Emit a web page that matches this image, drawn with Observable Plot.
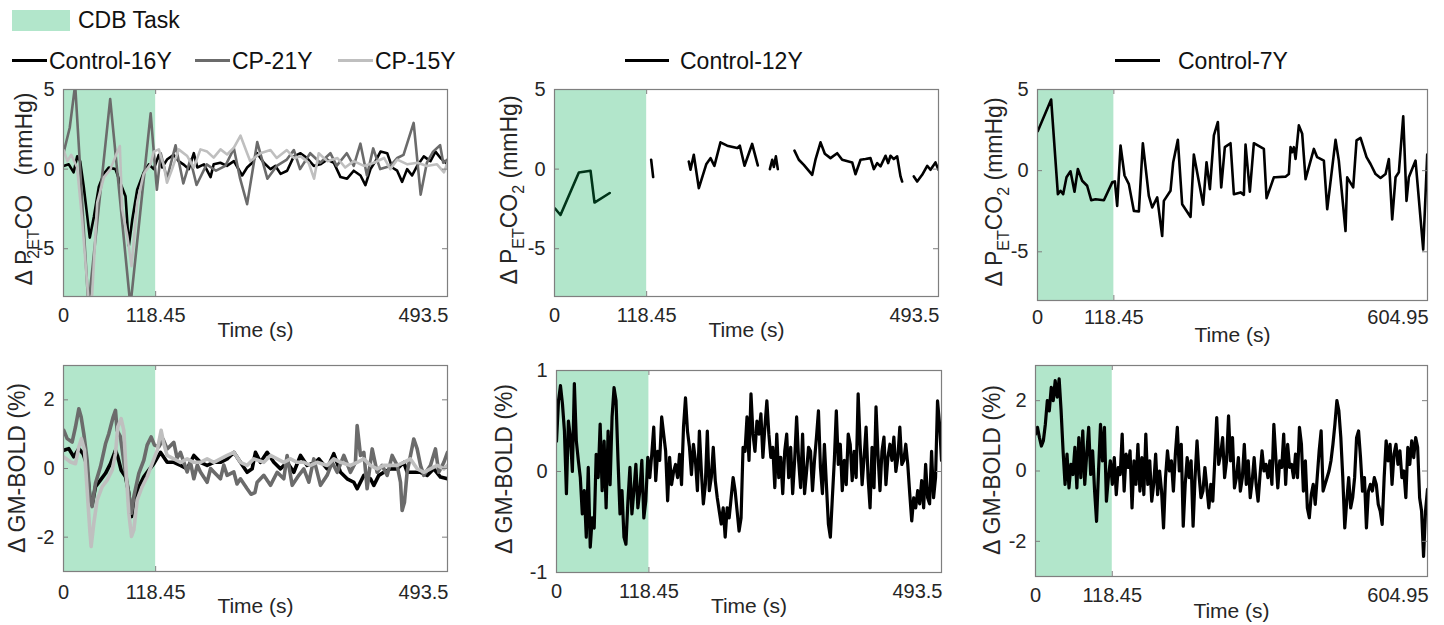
<!DOCTYPE html>
<html><head><meta charset="utf-8">
<script src="https://cdn.jsdelivr.net/npm/d3@7"></script>
<script src="https://cdn.jsdelivr.net/npm/@observablehq/plot@0.6"></script>
<style>
body{margin:0;background:#fff;}
#fig{position:relative;width:1444px;height:625px;font-family:"Liberation Sans",Arial,sans-serif;color:#000;overflow:hidden;}
.abs{position:absolute;white-space:nowrap;}
</style></head><body><div id="fig"></div>
<script>
// ---------- DATA ----------
const taskWindow = [{start: 0, end: 118.45}];
const durA = 493.5, durB = 604.95;
const xTicksA = [0, 118.45, 493.5];
const xTicksB = [0, 118.45, 604.95];
const yTicksPet = [-5, 0, 5];
const yTicksBoldA = [-2, 0, 2];
const yTicksBoldB = [-1, 0, 1];
const legendTop = ["Control-16Y", "CP-21Y", "CP-15Y"];

// Panel 1: ΔPETCO2, [time s, mmHg]
const c16Pet = [[0,0.2],[6.8,0.3],[13,-0.2],[17.6,0.8],[21.4,0.5],[26,-1.1],[33.8,-4.3],[39,-3.0],[45.4,-1.1],[51.8,-0.3],[58.2,0.1],[66.8,0.0],[73.3,-0.9],[79.7,-1.7],[84,-4.8],[88.3,-3.2],[94.7,-1.3],[103.2,-0.2],[109.7,0.3],[116,0.0],[122.5,0.9],[126.7,0.1],[133,0.6],[141.5,0.9],[148,0.5],[154,0.3],[161,0.0],[167.5,1.0],[172,0.1],[180.5,0.3],[189,-0.5],[193,0.3],[201.6,0.4],[210,0.2],[219,0.5],[229.6,-0.4],[236,0.1],[242.5,0.4],[248.9,1.0],[257.4,0.4],[266,0.0],[272.4,0.2],[279,-0.3],[287.4,-0.1],[296,0.8],[304.6,1.0],[313,0.7],[321.7,0.2],[330,0.3],[338.8,0.6],[347.4,0.4],[356,-0.5],[364.5,-0.6],[373,-0.1],[381.7,-0.4],[388,-1.0],[394.5,0.0],[401,0.5],[407.4,1.1],[416,1.0],[422.4,0.1],[428.8,-0.1],[435.2,-0.8],[441.6,0.0],[448,-0.4],[454.5,0.2],[463,0.8],[471.6,0.5],[478,1.1],[484.5,0.7],[493.5,0.3]];
const cp21Pet = [[0,1.0],[8,2.6],[15,5.3],[32,-8.6],[60,4.4],[86,-8.6],[112,3.5],[120,-1.3],[125,1.0],[133,-0.6],[144,1.5],[154,-0.9],[163,0.6],[171,-1.0],[184,0.3],[196,-0.1],[208,0.2],[219,1.3],[227,-0.6],[236,-2.2],[249,1.7],[262,-0.6],[274,0.2],[287,0.6],[296,1.2],[304,0.0],[317,1.0],[330,0.4],[343,1.0],[351,0.2],[364,1.0],[373,0.2],[381.6,1.6],[390,-0.4],[398,1.3],[407,0.0],[420,0.2],[429,0.7],[437,0.9],[450,2.9],[459,-1.6],[467,0.4],[475,1.1],[484,1.5],[488,0.4],[493.5,0.6]];
const cp15Pet = [[0,1.2],[5,0.5],[10,0.9],[17.5,0.1],[24,-3.2],[32.5,-8.5],[36.8,-7.9],[43.3,-2.1],[52,-0.5],[60.4,0.0],[66.8,0.8],[72.4,1.45],[75.4,-2.5],[82,-4.2],[87.4,-6.1],[94.7,-2.1],[103,-0.3],[111.8,0.3],[116,1.1],[122.5,1.24],[129,0.19],[133,-0.86],[139.6,0.0],[148,1.24],[159,0.82],[167.5,0.09],[176,1.24],[184.6,1.1],[193,0.72],[201.8,1.24],[210.3,0.92],[219,1.35],[227.5,2.1],[236,1.0],[240,0.5],[253,1.0],[266,1.2],[274,0.7],[287,1.2],[296,0.7],[305,0.8],[315,0.4],[322,-0.6],[328,1.0],[339,0.5],[352,0.7],[362,0.1],[373,0.5],[386,0.2],[399,0.4],[412,0.7],[420,0.0],[429,0.6],[442,0.3],[455,0.4],[467,0.2],[480,0.3],[489,-0.2],[493.5,0.4]];

// Panel 2: Control-12Y ΔPETCO2 (null = missing)
const c12Pet = [[0.4,-2.46],[7.7,-2.88],[31.3,-0.21],[46.3,-0.1],[51.4,-2.1],[71,-1.5],[100,null],[124.2,0.59],[126.8,-0.5],[150,null],[172.6,0.48],[174.8,-0.04],[179,0.9],[185.5,-1.2],[195,0.3],[200.5,0.69],[205.5,0.2],[213.3,1.68],[221.9,1.47],[234.8,1.32],[238.2,1.47],[244.2,0.21],[254,1.58],[261.3,0.23],[270,null],[276.8,0.0],[279.8,0.59],[281.9,0.13],[284.5,0.8],[287,0.0],[300,null],[308.4,1.16],[314,0.59],[320.4,0.27],[331.2,-0.36],[335.4,0.59],[341.9,1.68],[347.4,0.97],[354.7,0.69],[363.3,1.0],[369.7,0.59],[382.6,0.42],[386.8,-0.32],[393.3,0.59],[399.7,0.63],[406.1,0.69],[410.4,0.0],[414.7,0.38],[419,0.17],[425.4,0.84],[428.8,0.38],[431.8,0.84],[436.1,0.63],[440.4,0.8],[444.7,-0.46],[446.8,-0.78],[455,null],[461.8,-0.46],[466.1,-0.78],[472.5,-0.36],[479,0.21],[483.2,-0.04],[489.6,0.42],[493.5,-0.04]];

// Panel 3: Control-7Y ΔPETCO2
const c7Pet = [[0.5,2.44],[21.2,4.38],[31.6,-1.45],[35.7,-1.24],[39.8,-1.45],[45,-0.41],[51.2,-0.04],[57.4,-1.3],[62.6,0.1],[69.3,-0.62],[77,-0.93],[83.3,-1.82],[90,-1.76],[103,-1.82],[115.9,-0.72],[120,-0.66],[123.6,-2.17],[128.8,1.55],[135,-0.3],[141.7,-0.83],[149.5,-2.48],[157.2,-2.52],[163.4,1.69],[172.7,-1.55],[177.9,-2.27],[185.7,-1.65],[193.4,-4.03],[196,-1.86],[206.3,-1.24],[210.5,0.52],[217.7,1.9],[224.4,-2.07],[237.4,-2.85],[242.5,0.99],[257,-2.1],[262.2,0.52],[267.4,-1.14],[273.6,2.17],[279.8,3.0],[285,-1.03],[290.6,1.45],[299.4,1.69],[304.6,-1.45],[315,-1.34],[320.1,-1.49],[322.7,1.61],[329.4,-1.3],[335.6,1.69],[351.1,1.34],[355.3,-1.69],[366.6,-0.41],[369.2,-0.41],[384.7,-0.37],[389.9,-0.21],[392.5,1.45],[395.1,1.14],[397.7,1.45],[400.3,0.72],[405.4,2.79],[410.6,2.27],[415.8,-0.52],[428.7,1.34],[433.8,0.83],[444.2,0.62],[449.4,-2.38],[462.3,1.9],[467.4,0.62],[477.8,-3.72],[480.4,-0.41],[489.7,-1.03],[494.9,1.86],[501.1,2.02],[510.4,0.83],[516.6,0.41],[524.4,-0.21],[532.1,-0.45],[539.9,-0.21],[545,0.72],[550.2,-3.0],[555.4,-0.41],[560.5,-0.1],[567.3,3.35],[572.4,-1.86],[576,-0.41],[586.4,0.62],[598.3,-4.86],[604.5,0.99]];

// Panel 4: ΔGM-BOLD (%), [time s, %]
const c16Bold = [[0.4,0.53],[6.8,0.58],[13.2,0.34],[19.7,0.58],[25.2,0.43],[29.5,0.14],[33.8,-0.82],[36.8,-1.06],[41.1,-0.53],[47.5,-0.34],[54,-0.14],[60.4,0.14],[66.8,0.53],[69.8,0.34],[74.1,-0.05],[79.7,-0.24],[83.9,-0.72],[87.4,-1.4],[90.4,-1.01],[96.8,-0.53],[103.2,-0.24],[109.6,-0.05],[116.1,0.14],[124.6,0.47],[133.2,0.18],[141.8,0.18],[150.3,0.09],[158.9,-0.01],[167.5,0.38],[176,0.18],[184.6,0.09],[193.2,0.18],[201.7,0.18],[210.3,0.28],[218.9,0.47],[227.4,0.18],[236,-0.11],[242.4,-0.01],[246.7,0.47],[253.2,0.18],[261.7,0.47],[270.3,0.18],[278.9,-0.01],[287.4,0.18],[296,-0.11],[304.6,0.38],[313.1,0.09],[323.8,0.18],[328.1,0.28],[338.8,-0.01],[347.4,0.43],[356,-0.11],[364.5,-0.3],[373.1,-0.4],[377.4,-0.59],[386,-0.2],[394.5,-0.3],[398.8,-0.49],[405.2,-0.2],[411.7,-0.11],[420.2,-0.01],[428.8,-0.01],[437.4,0.18],[441.6,-0.11],[450.2,-0.11],[458.8,-0.11],[467.4,-0.2],[475.9,-0.01],[484.5,-0.25],[493.5,-0.3]];
const cp21Bold = [[0.4,1.11],[4.7,0.87],[11.1,0.77],[15.4,1.21],[19.7,1.74],[22.7,1.5],[26.1,1.01],[30.4,0.24],[33.8,-0.82],[36.8,-1.11],[41.1,-0.43],[47.5,0.05],[54,0.72],[58.2,1.01],[63.8,1.5],[66.8,1.69],[68.9,1.11],[73.2,0.92],[78.4,0.05],[83.9,-0.72],[87.4,-1.3],[90.4,-0.82],[96.8,-0.14],[103.2,0.24],[107.5,0.68],[112.6,0.92],[116.9,0.68],[122.5,0.63],[128,0.85],[133.2,0.57],[141.8,0.76],[146,0.3],[150.3,0.47],[158.9,-0.1],[163,0.2],[167.5,-0.3],[172,0.1],[176,-0.1],[184.6,-0.4],[189,0.0],[193.2,-0.1],[201.7,-0.3],[206,0.1],[210.3,-0.2],[218.9,-0.1],[223,-0.45],[227.4,-0.3],[236,-0.59],[241,-0.75],[246,-0.7],[248.9,-0.4],[257.4,-0.2],[266,-0.49],[274.6,-0.11],[283.1,-0.3],[287.4,0.38],[293.9,-0.49],[302.4,-0.2],[308.8,-0.01],[315.3,-0.4],[321.7,0.28],[330.3,-0.49],[338.8,-0.2],[345.3,0.18],[351.7,-0.11],[360.3,0.38],[368.8,-0.11],[375.2,0.18],[377.4,1.25],[381.7,0.38],[386,0.47],[390.2,-0.59],[396.7,0.57],[403.1,-0.11],[409.5,0.09],[416,-0.2],[422.4,0.38],[428.8,0.09],[433.1,-0.4],[435.2,-1.22],[438.2,-0.98],[441.6,-0.11],[450.2,0.86],[454.5,0.57],[458.8,0.09],[463,-0.2],[471.6,0.09],[478,0.57],[482.3,-0.11],[488.8,0.18],[493.5,0.47]];
const cp15Bold = [[0.4,0.34],[9,0.19],[15.4,0.14],[19.7,0.63],[23.1,0.87],[27,0.53],[30.4,-0.63],[33.8,-1.79],[35.5,-2.27],[39,-1.59],[43.2,-0.92],[49.7,-0.53],[56.1,-0.34],[62.5,-0.05],[66.8,0.43],[69.8,1.21],[74.1,1.45],[77.5,1.11],[80.9,-0.24],[83.9,-1.3],[87.4,-1.98],[90.4,-1.79],[94.6,-0.92],[101.1,-0.53],[107.5,-0.24],[113.9,0.14],[120.4,0.53],[125.5,1.11],[128.9,0.72],[133.2,0.38],[141.8,0.28],[150.3,0.18],[158.9,0.28],[167.5,0.18],[176,0.18],[184.6,0.28],[193.2,0.18],[201.7,0.28],[210.3,0.38],[218.9,0.47],[227.4,0.18],[236,0.09],[244.6,0.28],[257.4,0.18],[266,0.38],[274.6,0.28],[283.1,0.18],[291.7,0.28],[300.3,0.18],[308.8,0.18],[317.4,0.09],[326,0.18],[338.8,0.09],[347.4,0.28],[356,0.18],[368.8,0.09],[377.4,0.18],[386,0.28],[394.5,0.09],[403.1,-0.01],[411.7,0.09],[420.2,0.09],[428.8,0.09],[437.4,0.18],[445.9,0.28],[454.5,-0.01],[463,-0.11],[471.6,-0.01],[480.2,0.09],[488.8,-0.01],[493.5,0.09]];

// Panel 5: Control-12Y ΔGM-BOLD (%), evenly sampled over 0–493.5 s
const c12Bold = [0.30,0.70,0.85,0.67,0.40,-0.22,0.50,0.34,0.0,0.87,0.30,0.11,-0.06,-0.42,-0.19,-0.65,0.04,-0.75,-0.46,-0.56,0.17,-0.06,0.47,-0.19,0.30,-0.36,0.40,-0.13,0.54,0.83,0.70,0.11,-0.42,-0.19,-0.65,-0.72,-0.29,0.04,-0.42,-0.19,0.07,-0.36,-0.19,0.11,-0.46,-0.29,0.14,-0.06,0.17,0.44,-0.09,0.20,0.11,0.54,0.37,0.20,-0.29,0.14,-0.13,0.0,0.07,-0.06,0.17,-0.13,0.44,0.73,0.40,0.24,-0.03,0.27,0.11,-0.19,0.40,0.0,-0.32,-0.13,0.40,-0.19,-0.06,0.24,-0.09,-0.26,-0.39,-0.52,-0.36,-0.65,-0.36,-0.46,-0.26,-0.06,-0.19,-0.39,-0.59,-0.46,0.24,0.20,0.54,0.11,0.77,0.37,0.20,0.50,0.37,0.57,0.14,0.44,0.70,0.37,0.14,0.24,-0.16,0.37,-0.06,0.14,-0.22,0.20,0.37,-0.06,0.24,-0.22,0.11,0.54,0.11,-0.16,0.37,-0.22,0.0,0.24,0.20,-0.19,0.11,0.34,0.60,0.04,-0.22,0.27,-0.13,-0.52,-0.65,-0.26,0.11,0.60,0.07,0.27,-0.19,0.11,-0.13,0.37,0.27,-0.09,0.20,-0.06,0.77,0.27,-0.13,0.14,0.44,-0.06,-0.36,0.24,-0.16,0.64,0.17,-0.19,0.20,0.34,-0.13,0.14,0.27,0.11,0.34,0.0,0.14,0.44,0.07,0.11,0.27,0.07,-0.22,-0.49,-0.26,-0.36,-0.19,-0.32,-0.09,-0.36,0.07,-0.26,-0.32,0.20,-0.26,-0.06,0.70,0.47,0.11];

// Panel 6: Control-7Y ΔGM-BOLD (%), evenly sampled over 0–604.95 s
const c7Bold = [1.05,1.24,0.95,0.71,0.86,1.33,2.0,1.71,2.38,2.0,2.57,2.1,2.62,1.71,0.57,-0.38,0.48,-0.48,0.19,-0.1,0.67,-0.48,0.95,-0.19,1.14,-0.38,0.48,1.24,-0.1,0.57,-0.57,-1.43,0.0,1.33,0.29,1.24,-0.86,-0.19,0.29,-0.38,0.38,-0.67,0.1,-0.1,1.05,-0.57,0.48,0.1,0.57,-1.05,0.29,-0.38,0.76,-0.57,0.38,-0.67,1.05,-0.38,0.29,-0.86,-0.38,0.48,-0.67,0.0,-0.57,-1.62,-0.19,0.57,0.0,0.29,-0.57,0.48,1.24,0.0,0.76,-1.57,-0.38,0.38,-0.19,0.29,-1.57,-0.19,0.86,-0.1,-0.76,-0.57,0.1,-0.48,-1.05,-0.38,-0.86,0.29,1.52,0.19,0.48,0.95,-0.19,0.29,1.57,0.29,0.95,-0.48,-0.19,0.38,-0.57,-0.19,0.76,-0.38,0.29,-0.76,-0.29,0.38,-0.38,-0.86,-0.1,0.57,0.0,0.19,-0.19,0.29,-0.38,1.33,0.38,-0.48,0.29,0.1,1.05,-0.38,0.76,0.1,0.19,-0.19,0.48,-0.19,1.24,0.76,-0.57,0.29,-1.05,-1.33,-0.67,-0.38,-0.95,-0.19,0.57,1.14,-0.57,-0.38,-0.19,0.0,0.29,0.76,1.33,2.0,1.71,0.95,-0.19,-1.62,-0.86,-0.19,-1.05,-0.76,-0.19,0.95,1.14,0.38,-0.57,-0.19,-1.62,-0.57,-0.38,-0.57,-0.19,-0.38,-0.95,-1.14,-1.52,-0.19,0.86,0.29,0.76,-0.38,0.48,0.76,0.19,0.57,-0.19,0.0,-0.76,0.67,0.19,0.86,0.38,0.95,0.67,-0.76,-1.14,-2.43,-1.14,-0.52];

// ---------- STYLE ----------
const GREEN = "#b2e6cb", OVER = "rgb(0,172,82)";
const FRAME = "#7f7f7f", TXT = "#262626";
const COL = {black: "#000000", dark: "#6b6b6b", light: "#bfbfbf"};
const FONT = '"Liberation Sans", Arial, Helvetica, sans-serif';
const fig = document.getElementById("fig");

const even = (vals, T) => vals.map((v, i) => [i * T / (vals.length - 1), v]);

function mkPanel(c) {
  const mL = 60, mR = 14, mT = 12, mB = 56;
  const {left, top, w, h, T, xt, yDomain, yTicks, series, overlay, parts, labX, labY, tickDy, timeDy, sw} = c;
  const marks = [];
  if (!overlay) marks.push(Plot.rect(taskWindow, {x1: "start", x2: "end", fill: GREEN}));
  series.forEach(s => marks.push(Plot.line(s.data, {x: d => d[0], y: d => d[1], stroke: s.color, strokeWidth: sw, clip: true, strokeLinejoin: "round"})));
  if (overlay) marks.push(Plot.rect(taskWindow, {x1: "start", x2: "end", fill: OVER, fillOpacity: 0.3}));
  const ins = 5;
  marks.push(
    Plot.tickY(yTicks, {y: d => d, stroke: FRAME, insetRight: w - ins}),
    Plot.tickY(yTicks, {y: d => d, stroke: FRAME, insetLeft: w - ins}),
    Plot.tickX(xt, {x: d => d, stroke: FRAME, insetTop: h - ins}),
    Plot.tickX(xt, {x: d => d, stroke: FRAME, insetBottom: h - ins}),
    Plot.frame({stroke: FRAME, strokeWidth: 1.2}),
    Plot.text(yTicks, {y: d => d, text: d => String(d), frameAnchor: "left", dx: -9, textAnchor: "end", fontSize: 20, fill: TXT}),
    Plot.text(xt.slice(0, 2), {x: d => d, text: d => String(d), frameAnchor: "bottom", dy: tickDy, fontSize: 20, fill: TXT}),
    Plot.text(xt.slice(2), {x: d => d, text: d => String(d), frameAnchor: "bottom", dy: tickDy, dx: 1, textAnchor: "end", fontSize: 20, fill: TXT}),
    Plot.text(["Time (s)"], {text: d => d, frameAnchor: "bottom", dy: timeDy, fontSize: 21, fill: TXT})
  );
  const svg = Plot.plot({
    width: w + mL + mR, height: h + mT + mB,
    marginLeft: mL, marginRight: mR, marginTop: mT, marginBottom: mB,
    x: {domain: [0, T], axis: null},
    y: {domain: yDomain, axis: null},
    style: {fontFamily: FONT, background: "transparent", overflow: "visible", color: TXT},
    marks
  });
  const sx = left - mL, sy = top - mT;
  svg.style.position = "absolute";
  svg.style.left = sx + "px";
  svg.style.top = sy + "px";
  const t = d3.select(svg).append("text")
    .attr("transform", `translate(${labX - sx},${labY - sy}) rotate(-90)`)
    .attr("text-anchor", "middle").attr("font-size", 23).attr("fill", TXT)
    .attr("font-family", FONT).style("white-space", "pre");
  parts.forEach(p => {
    const ts = t.append("tspan").text(p.t).attr("font-size", p.fs || 23);
    if (p.dy) ts.attr("dy", p.dy);
    if (p.dx) ts.attr("dx", p.dx);
  });
  fig.appendChild(svg);
}

const petParts = [{t: "Δ P"}, {t: "ET", dy: 7, fs: 16}, {t: "CO", dy: -7}, {t: "2", dy: 7, fs: 16}, {t: " (mmHg)", dy: -7}];
const petPartsGlitch = [{t: "Δ P"}, {t: "2", dy: 7, fs: 16, dx: -9}, {t: "ET", fs: 16}, {t: "CO", dy: -7}, {t: "   (mmHg)"}];
const boldParts = [{t: "Δ GM-BOLD (%)"}];

mkPanel({left: 63, top: 89, w: 384, h: 207, T: durA, xt: xTicksA, yDomain: [-8, 5], yTicks: yTicksPet,
  series: [{data: c16Pet, color: COL.black}, {data: cp21Pet, color: COL.dark}, {data: cp15Pet, color: COL.light}],
  parts: petPartsGlitch, labX: 32, labY: 189, tickDy: 25, timeDy: 40, sw: 2.6});
mkPanel({left: 554, top: 89, w: 384, h: 207, T: durA, xt: xTicksA, yDomain: [-8, 5], yTicks: yTicksPet,
  series: [{data: c12Pet, color: COL.black}], overlay: true,
  parts: petParts, labX: 517, labY: 190, tickDy: 25, timeDy: 40, sw: 2.6});
mkPanel({left: 1037, top: 89, w: 390, h: 211, T: durB, xt: xTicksB, yDomain: [-8, 5], yTicks: yTicksPet,
  series: [{data: c7Pet, color: COL.black}],
  parts: petParts, labX: 1002, labY: 192, tickDy: 23, timeDy: 41, sw: 2.6});
mkPanel({left: 63, top: 365, w: 384, h: 206, T: durA, xt: xTicksA, yDomain: [-3, 3], yTicks: yTicksBoldA,
  series: [{data: c16Bold, color: COL.black}, {data: cp21Bold, color: COL.dark}, {data: cp15Bold, color: COL.light}],
  parts: boldParts, labX: 25, labY: 468, tickDy: 27, timeDy: 41, sw: 3.6});
mkPanel({left: 556, top: 370, w: 385, h: 202, T: durA, xt: xTicksA, yDomain: [-1, 1], yTicks: yTicksBoldB,
  series: [{data: even(c12Bold, durA), color: COL.black}],
  parts: boldParts, labX: 512, labY: 469, tickDy: 25, timeDy: 40, sw: 3.2});
mkPanel({left: 1035, top: 365, w: 392, h: 211, T: durB, xt: xTicksB, yDomain: [-3, 3], yTicks: yTicksBoldA,
  series: [{data: even(c7Bold, durB), color: COL.black}],
  parts: boldParts, labX: 1000, labY: 470, tickDy: 25, timeDy: 41, sw: 3.2});

// ---------- LEGENDS ----------
function addDiv(css, text) {
  const d = document.createElement("div");
  d.className = "abs";
  Object.assign(d.style, css);
  if (text) d.textContent = text;
  fig.appendChild(d);
}
addDiv({left: "12px", top: "10px", width: "58px", height: "21px", background: GREEN});
addDiv({left: "78px", top: "6px", fontSize: "23px", lineHeight: "28px", color: "#111"}, "CDB Task");
const legendItems = [
  {label: legendTop[0], color: COL.black, x: 12, lw: 35},
  {label: legendTop[1], color: COL.dark, x: 195, lw: 35},
  {label: legendTop[2], color: COL.light, x: 338, lw: 35},
  {label: "Control-12Y", color: COL.black, x: 625, lw: 44, gap: 11},
  {label: "Control-7Y", color: COL.black, x: 1115, lw: 45, gap: 18}
];
legendItems.forEach(it => {
  addDiv({left: it.x + "px", top: "59px", width: it.lw + "px", height: "3px", background: it.color});
  addDiv({left: (it.x + it.lw + (it.gap || 2)) + "px", top: "47px", fontSize: "23px", lineHeight: "28px", color: "#111"}, it.label);
});
</script></body></html>
